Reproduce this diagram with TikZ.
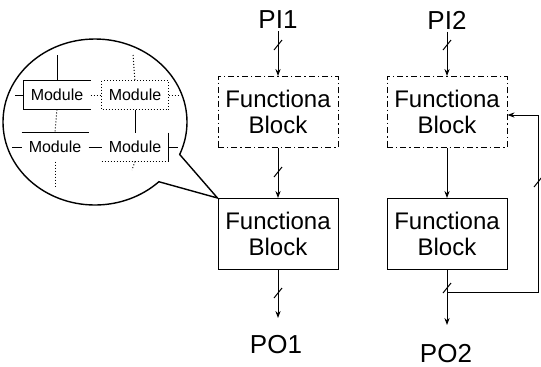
\documentclass[tikz,border=0pt]{standalone}
\usepackage{fontspec}
\setmainfont{Liberation Sans}
\usetikzlibrary{arrows.meta}
\usetikzlibrary{shapes.callouts}

% short slash across a bus line
\newcommand{\busmark}[1]{\draw (#1) +(-4,5) -- +(4,-5);}

\begin{document}
\begin{tikzpicture}[
    x=0.5pt, y=-0.5pt, line width=0.5pt,
    every node/.style={align=center},
    fblock/.style={draw, rectangle, minimum width=60pt, minimum height=35.5pt, inner sep=0pt, font=\fontsize{12}{13}\selectfont},
    softblock/.style={fblock, dash pattern=on 3pt off 1.5pt on 0.7pt off 1.5pt},
    port/.style={font=\fontsize{13}{14}\selectfont, inner sep=1pt},
    module/.style={font=\fontsize{8}{9}\selectfont, inner sep=0pt, minimum width=33pt, minimum height=14pt},
    wire/.style={-{Stealth[length=3.5pt,width=2.6pt]}}
]
    \useasboundingbox (0,0) rectangle (541,366);

    % Left column
    \node[port] (pi1) at (278,20) {PI1};
    \node[softblock] (b1) at (278,112) {Functiona\\Block};
    \node[fblock] (b2) at (278,234) {Functiona\\Block};
    \coordinate (o1) at (278,318);
    \node[port] (po1) at (276,345) {PO1};

    \draw[wire] (pi1.south) -- (b1.north);
    \draw[wire] (b1.south) -- (b2.north);
    \draw[wire] (b2.south) -- (o1);
    \coordinate (s1) at (278,45);
    \coordinate (s2) at (278,172);
    \coordinate (s3) at (278,293);
    \busmark{s1} \busmark{s2} \busmark{s3}

    % Right column with feedback loop
    \node[port] (pi2) at (447,20) {PI2};
    \node[softblock] (b3) at (447,112) {Functiona\\Block};
    \node[fblock] (b4) at (447,234) {Functiona\\Block};
    \coordinate (o2) at (447,325);
    \node[port] (po2) at (446,354) {PO2};

    \draw[wire] (pi2.south) -- (b3.north);
    \draw[wire] (b3.south) -- (b4.north);
    \draw[wire] (b4.south) -- (o2);
    \coordinate (j2) at (447,292);
    \coordinate (c1) at (538,292);
    \coordinate (c2) at (538,115);
    \draw[wire] (j2) -- (c1) -- (c2) -- (b3.east |- c2);
    \coordinate (s4) at (447,45);
    \coordinate (s5) at (447,288);
    \coordinate (s6) at (538,182);
    \busmark{s4} \busmark{s5} \busmark{s6}

    % Zoomed view of the lower block
    \node[ellipse callout, draw, line width=0.7pt, minimum width=92pt, minimum height=83pt,
          callout absolute pointer={(b2.north west)}, callout pointer arc=23] (bubble) at (95,122) {};

    \node[module] (m11) at (57,95) {Module};
    \node[module] (m12) at (135,95) {Module};
    \node[module] (m21) at (55,147) {Module};
    \node[module] (m22) at (135,147) {Module};

    % partly drawn module outlines
    \draw (m11.south east) -- (m11.south west) -- (m11.north west) -- (m11.north east);
    \draw[densely dotted] (m12.north west) rectangle (m12.south east);
    \draw (m21.north west) -- (m21.north east);
    \draw (m22.north east) -- (m22.south east);
    \draw[densely dotted] (m22.south west) -- (m22.south east);

    % loose ends inside the bubble
    \coordinate (l1) at (15,95);
    \coordinate (r1) at (178,95);
    \coordinate (l2) at (12,147);
    \coordinate (r2) at (178,147);
    \coordinate (t1) at (57,55);
    \coordinate (t2) at (133,55);
    \coordinate (d1) at (55,186);
    \coordinate (d2) at (132,170);

    % rows
    \draw (l1) -- (m11.west);
    \draw[densely dotted] (m11.east) -- (m12.west);
    \draw[densely dotted] (m12.east) -- (r1);
    \draw (l2) -- (m21.west);
    \draw (m21.east) -- (m22.west);
    \draw (m22.east) -- (r2);

    % columns
    \draw (t1) -- (m11.north);
    \draw[densely dotted] (m11.south) -- (m21.north);
    \draw[densely dotted] (m21.south) -- (d1);
    \draw[densely dotted] (t2) -- (m12.north);
    \draw (m12.south) -- (m22.north);
    \draw[densely dotted] (m22.south) -- (d2);

\end{tikzpicture}
\end{document}
